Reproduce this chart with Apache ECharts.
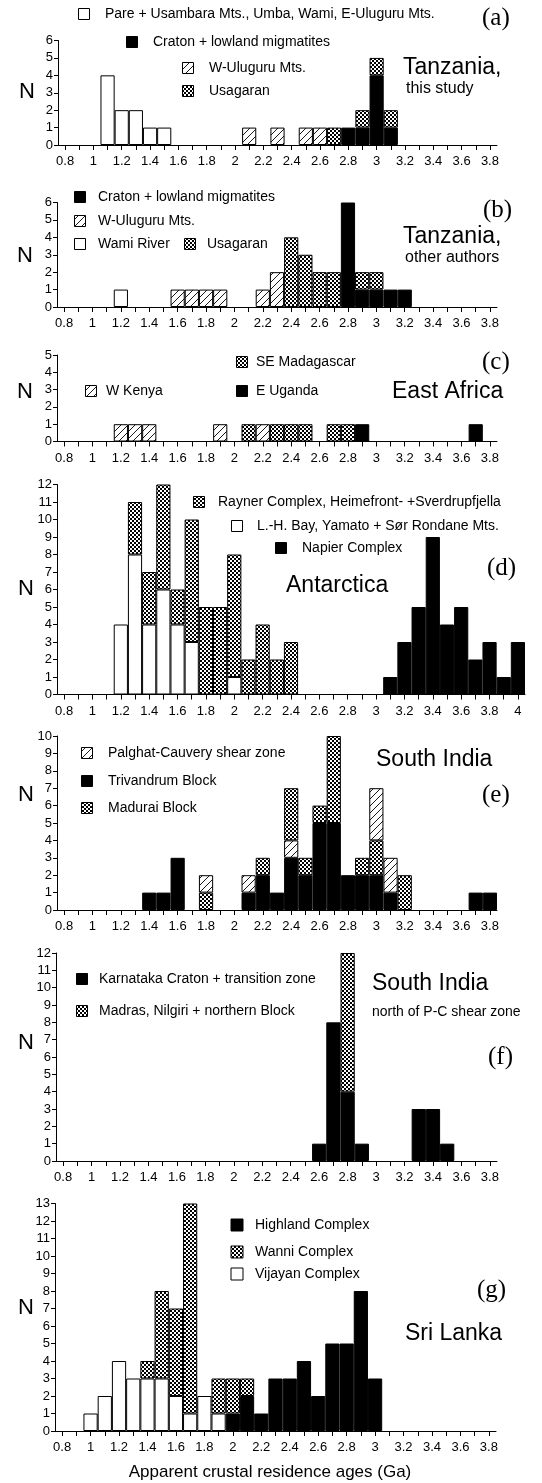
<!DOCTYPE html>
<html>
<head>
<meta charset="utf-8">
<script src="https://cdn.jsdelivr.net/npm/echarts@6/dist/echarts.min.js"></script>
<style>
  html, body { margin: 0; padding: 0; background: #fff; }
  #chart { width: 542px; height: 1483px; }
</style>
</head>
<body>
<div id="chart"></div>
<script>
// Bin centres (Ga), one bar per 0.1 Ga bin
const ages38 = ['0.8','0.9','1','1.1','1.2','1.3','1.4','1.5','1.6','1.7','1.8','1.9','2','2.1','2.2','2.3','2.4','2.5','2.6','2.7','2.8','2.9','3','3.1','3.2','3.3','3.4','3.5','3.6','3.7','3.8'];
const ages40 = ages38.concat(['3.9','4']);

// (a) Tanzania, this study — [age, N]
const aPare      = [[1.1,4],[1.2,2],[1.3,2],[1.4,1],[1.5,1]];
const aCraton    = [[2.8,1],[2.9,1],[3.0,4],[3.1,1]];
const aWUluguru  = [[2.1,1],[2.3,1],[2.5,1],[2.6,1]];
const aUsagaran  = [[2.7,1],[2.9,1],[3.0,1],[3.1,1]];

// (b) Tanzania, other authors
const bCraton    = [[2.8,6],[2.9,1],[3.0,1],[3.1,1],[3.2,1]];
const bWUluguru  = [[1.6,1],[1.7,1],[1.8,1],[1.9,1],[2.2,1],[2.3,2]];
const bWami      = [[1.2,1]];
const bUsagaran  = [[2.4,4],[2.5,3],[2.6,2],[2.7,2],[2.9,1],[3.0,1]];

// (c) East Africa
const cKenya      = [[1.2,1],[1.3,1],[1.4,1],[1.9,1],[2.2,1]];
const cMadagascar = [[2.1,1],[2.3,1],[2.4,1],[2.5,1],[2.7,1],[2.8,1]];
const cUganda     = [[2.9,1],[3.7,1]];

// (d) Antarctica
const dLHBay  = [[1.2,4],[1.3,8],[1.4,4],[1.5,6],[1.6,4],[1.7,3],[2.0,1]];
const dRayner = [[1.3,3],[1.4,3],[1.5,6],[1.6,2],[1.7,7],[1.8,5],[1.9,5],[2.0,7],[2.1,2],[2.2,4],[2.3,2],[2.4,3]];
const dNapier = [[3.1,1],[3.2,3],[3.3,5],[3.4,9],[3.5,4],[3.6,5],[3.7,2],[3.8,3],[3.9,1],[4.0,3]];

// (e) South India
const eTrivandrum = [[1.4,1],[1.5,1],[1.6,3],[2.1,1],[2.2,2],[2.3,1],[2.4,3],[2.5,2],[2.6,5],[2.7,5],[2.8,2],[2.9,2],[3.0,2],[3.1,1],[3.7,1],[3.8,1]];
const eMadurai    = [[1.8,1],[2.2,1],[2.4,3],[2.5,1],[2.6,1],[2.7,5],[2.9,1],[3.0,2],[3.2,2]];
const ePalghat    = [[1.8,1],[2.1,1],[2.4,1],[3.0,3],[3.1,2]];
const ePalghatUnderMadurai = [2.4];

// (f) South India, north of P-C shear zone
const fKarnataka = [[2.6,1],[2.7,8],[2.8,4],[2.9,1],[3.3,3],[3.4,3],[3.5,1]];
const fMadras    = [[2.8,8]];

// (g) Sri Lanka
const gHighland = [[2.0,1],[2.1,2],[2.2,1],[2.3,3],[2.4,3],[2.5,4],[2.6,2],[2.7,5],[2.8,5],[2.9,8],[3.0,3]];
const gVijayan  = [[1.0,1],[1.1,2],[1.2,4],[1.3,3],[1.4,3],[1.5,3],[1.6,2],[1.7,1],[1.8,2],[1.9,1]];
const gWanni    = [[1.4,1],[1.5,5],[1.6,5],[1.7,12],[1.9,2],[2.0,2],[2.1,1]];

// y-axis maxima per panel
const yMax = [6, 6, 5, 12, 10, 12, 13];

// ---------- fill patterns ----------
function hatchPattern() {
  const s = 7, c = document.createElement('canvas');
  c.width = s; c.height = s;
  const g = c.getContext('2d');
  g.fillStyle = '#fff'; g.fillRect(0, 0, s, s);
  g.strokeStyle = '#000'; g.lineWidth = 0.9;
  [0, s, 2 * s].forEach(k => { g.beginPath(); g.moveTo(k - s - 1, s + 1); g.lineTo(k + 1, -1); g.stroke(); });
  return { image: c, repeat: 'repeat' };
}
function stipplePattern() {
  const c = document.createElement('canvas');
  c.width = 4; c.height = 4;
  const g = c.getContext('2d');
  g.fillStyle = '#fff'; g.fillRect(0, 0, 4, 4);
  g.fillStyle = '#000'; g.fillRect(0, 0, 2, 2); g.fillRect(2, 2, 2, 2);
  return { image: c, repeat: 'repeat' };
}
const FILL = { black: '#000', white: '#fff', hatch: hatchPattern(), stipple: stipplePattern() };

function dense(pairs, cats) {
  const arr = cats.map(() => null);
  pairs.forEach(([a, n]) => { arr[cats.indexOf(String(a))] = n; });
  return arr;
}

// ---------- panel layout ----------
const grids = [
  { left: 58, top: 40.5,  width: 439, height: 104.5 },
  { left: 57, top: 202.5, width: 440, height: 104.5 },
  { left: 57, top: 355,   width: 440, height: 86.5 },
  { left: 57, top: 484.5, width: 468, height: 210 },
  { left: 57, top: 736,   width: 440, height: 174 },
  { left: 56, top: 953,   width: 441, height: 208 },
  { left: 55, top: 1203.5,width: 441, height: 227.5 }
];
const cats = [ages38, ages38, ages38, ages40, ages38, ages38, ages38];

const FONT = '"Liberation Sans", Arial, Helvetica, sans-serif';
const SERIF = '"Liberation Serif", "Times New Roman", serif';

const xAxes = grids.map((g, i) => ({
  type: 'category', gridIndex: i, data: cats[i], boundaryGap: true,
  axisLine: { show: true, lineStyle: { color: '#000', width: 1 } },
  axisTick: { show: true, alignWithLabel: true, interval: 0, length: 5, lineStyle: { color: '#000' } },
  axisLabel: { interval: 1, color: '#000', fontSize: 13, fontFamily: FONT, margin: 10 },
  splitLine: { show: false }
}));
const yAxes = grids.map((g, i) => ({
  type: 'value', gridIndex: i, min: 0, max: yMax[i], interval: 1,
  axisLine: { show: true, lineStyle: { color: '#000', width: 1 } },
  axisTick: { show: true, length: 4, lineStyle: { color: '#000' } },
  axisLabel: { color: '#000', fontSize: 13, fontFamily: FONT, margin: 5 },
  splitLine: { show: false }
}));

const series = [];
function bar(panel, name, pairs, fill) {
  series.push({
    type: 'bar', name: name, xAxisIndex: panel, yAxisIndex: panel, stack: 'p' + panel,
    data: dense(pairs, cats[panel]), barCategoryGap: '0%',
    itemStyle: { color: fill, borderColor: '#000', borderWidth: 1 },
    emphasis: { disabled: true }, silent: true
  });
}
// (a)
bar(0, 'Pare + Usambara Mts., Umba, Wami, E-Uluguru Mts.', aPare, FILL.white);
bar(0, 'Craton + lowland migmatites', aCraton, FILL.black);
bar(0, 'W-Uluguru Mts.', aWUluguru, FILL.hatch);
bar(0, 'Usagaran', aUsagaran, FILL.stipple);
// (b)
bar(1, 'Wami River', bWami, FILL.white);
bar(1, 'Craton + lowland migmatites', bCraton, FILL.black);
bar(1, 'W-Uluguru Mts.', bWUluguru, FILL.hatch);
bar(1, 'Usagaran', bUsagaran, FILL.stipple);
// (c)
bar(2, 'W Kenya', cKenya, FILL.hatch);
bar(2, 'SE Madagascar', cMadagascar, FILL.stipple);
bar(2, 'E Uganda', cUganda, FILL.black);
// (d)
bar(3, 'L.-H. Bay, Yamato + Sør Rondane Mts.', dLHBay, FILL.white);
bar(3, 'Rayner Complex, Heimefront- +Sverdrupfjella', dRayner, FILL.stipple);
bar(3, 'Napier Complex', dNapier, FILL.black);
// (e) Palghat-Cauvery bins sit either under or over the Madurai block counts
bar(4, 'Trivandrum Block', eTrivandrum, FILL.black);
bar(4, 'Palghat-Cauvery shear zone', ePalghat.filter(p => ePalghatUnderMadurai.includes(p[0])), FILL.hatch);
bar(4, 'Madurai Block', eMadurai, FILL.stipple);
bar(4, 'Palghat-Cauvery shear zone', ePalghat.filter(p => !ePalghatUnderMadurai.includes(p[0])), FILL.hatch);
// (f)
bar(5, 'Karnataka Craton + transition zone', fKarnataka, FILL.black);
bar(5, 'Madras, Nilgiri + northern Block', fMadras, FILL.stipple);
// (g)
bar(6, 'Highland Complex', gHighland, FILL.black);
bar(6, 'Vijayan Complex', gVijayan, FILL.white);
bar(6, 'Wanni Complex', gWanni, FILL.stipple);

// ---------- text and key boxes ----------
const graphics = [];
function txt(x, y, text, size, opts) {
  graphics.push({ type: 'text', x: x, y: y, silent: true,
    style: Object.assign({ text: text, fill: '#000', font: size + 'px ' + FONT, textVerticalAlign: 'middle', textAlign: 'left' }, opts || {}) });
}
function key(cx, cy, fill, label, tx, size) {
  const s = size || 11;
  graphics.push({ type: 'rect', silent: true, shape: { x: cx - s / 2, y: cy - s / 2, width: s, height: s },
    style: { fill: fill, stroke: '#000', lineWidth: 1 } });
  txt(tx, cy, label, 14);
}
function letter(x, y, t) {
  graphics.push({ type: 'text', x: x, y: y, silent: true,
    style: { text: t, fill: '#000', font: '25px ' + SERIF, textVerticalAlign: 'middle' } });
}

// (a)
key(84, 14, FILL.white, 'Pare + Usambara Mts., Umba, Wami, E-Uluguru Mts.', 105);
key(132, 42, FILL.black, 'Craton + lowland migmatites', 153);
key(188, 68, FILL.hatch, 'W-Uluguru Mts.', 209);
key(188, 91, FILL.stipple, 'Usagaran', 209);
letter(482, 18, '(a)');
txt(403, 68, 'Tanzania,', 23);
txt(406, 89, 'this study', 16);
// (b)
key(80, 197, FILL.black, 'Craton + lowland migmatites', 98);
key(80, 221, FILL.hatch, 'W-Uluguru Mts.', 98);
key(80, 244, FILL.white, 'Wami River', 98);
key(190, 244, FILL.stipple, 'Usagaran', 207);
letter(483, 210, '(b)');
txt(403, 237, 'Tanzania,', 23);
txt(405, 258, 'other authors', 16);
// (c)
key(242, 362, FILL.stipple, 'SE Madagascar', 256);
key(91, 391, FILL.hatch, 'W Kenya', 106);
key(242, 391, FILL.black, 'E Uganda', 256);
letter(482, 362, '(c)');
txt(392, 392, 'East Africa', 23);
// (d)
key(199, 502, FILL.stipple, 'Rayner Complex, Heimefront- +Sverdrupfjella', 218);
key(237, 526, FILL.white, 'L.-H. Bay, Yamato + Sør Rondane Mts.', 257);
key(281, 548, FILL.black, 'Napier Complex', 302);
letter(487, 568, '(d)');
txt(286, 586, 'Antarctica', 23);
// (e)
key(87, 753, FILL.hatch, 'Palghat-Cauvery shear zone', 108);
key(87, 781, FILL.black, 'Trivandrum Block', 108);
key(87, 808, FILL.stipple, 'Madurai Block', 108);
letter(482, 795, '(e)');
txt(376, 760, 'South India', 23);
// (f)
key(82, 979, FILL.black, 'Karnataka Craton + transition zone', 99);
key(82, 1011, FILL.stipple, 'Madras, Nilgiri + northern Block', 99);
letter(488, 1057, '(f)');
txt(372, 984, 'South India', 23);
txt(372, 1012, 'north of P-C shear zone', 14);
// (g)
key(237, 1225, FILL.black, 'Highland Complex', 255, 12);
key(237, 1252, FILL.stipple, 'Wanni Complex', 255, 12);
key(237, 1274, FILL.white, 'Vijayan Complex', 255, 12);
letter(477, 1290, '(g)');
txt(405, 1334, 'Sri Lanka', 23);

// y-axis "N" labels
[[27, 92], [25, 256], [25, 392], [26, 589], [26, 795], [26, 1043], [26, 1308]].forEach(p =>
  txt(p[0], p[1], 'N', 22, { textAlign: 'center' }));

// common x-axis title
txt(270, 1472, 'Apparent crustal residence ages (Ga)', 17, { textAlign: 'center' });

const chart = echarts.init(document.getElementById('chart'), null, { renderer: 'canvas' });
chart.setOption({
  backgroundColor: '#fff',
  animation: false,
  grid: grids.map(g => Object.assign({ containLabel: false }, g)),
  xAxis: xAxes,
  yAxis: yAxes,
  series: series,
  graphic: graphics
});
</script>
</body>
</html>
